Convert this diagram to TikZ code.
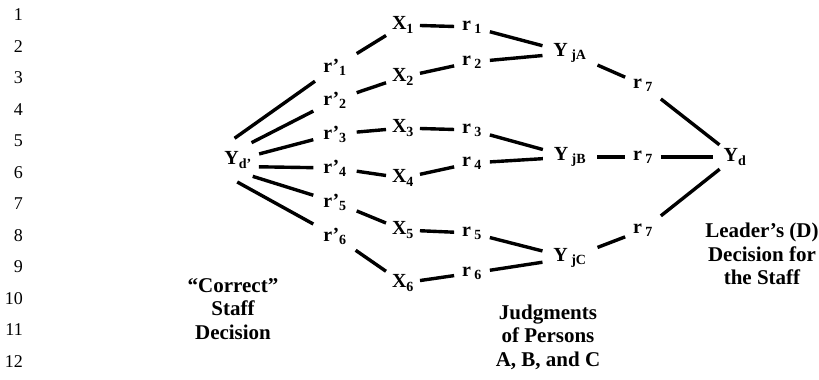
\documentclass[tikz,border=0pt]{standalone}
\usepackage{fontspec}
\setmainfont{Liberation Serif}

\begin{document}
\begin{tikzpicture}[x=1pt, y=-1pt,
    var/.style={font=\fontsize{20}{22}\selectfont\bfseries, inner sep=0pt, outer sep=6pt},
    judge/.style={var, inner xsep=7pt, outer sep=4pt},
    link/.style={line width=3.4pt},
    caption/.style={font=\fontsize{21}{23.5}\selectfont\bfseries, align=center}]

    \useasboundingbox (0,0) rectangle (819,380);

    % line numbers
    \foreach \n in {1,...,12}
        \node[font=\fontsize{18}{20}\selectfont, anchor=east, inner sep=0pt] (num\n) at (23, {15+(\n-1)*31.5}) {\n};

    % criterion, fanned out from a round border
    \node[var, circle, minimum size=44pt, outer sep=0pt] (ydp) at (238,160) {Y\textsubscript{d’}};

    \node[var, outer xsep=10pt] (rp1) at (335,67)  {r’\textsubscript{1}};
    \node[var, outer xsep=10pt] (rp2) at (335,100) {r’\textsubscript{2}};
    \node[var, outer xsep=10pt] (rp3) at (335,134) {r’\textsubscript{3}};
    \node[var, outer xsep=10pt] (rp4) at (335,168) {r’\textsubscript{4}};
    \node[var, outer xsep=10pt] (rp5) at (335,202) {r’\textsubscript{5}};
    \node[var, outer xsep=10pt] (rp6) at (335,236) {r’\textsubscript{6}};

    \node[var] (x1) at (403,25)  {X\textsubscript{1}};
    \node[var] (x2) at (403,77)  {X\textsubscript{2}};
    \node[var] (x3) at (403,128) {X\textsubscript{3}};
    \node[var] (x4) at (403,178) {X\textsubscript{4}};
    \node[var] (x5) at (403,230) {X\textsubscript{5}};
    \node[var] (x6) at (403,283) {X\textsubscript{6}};

    \node[var, outer sep=8pt] (r1) at (472,27)  {r\,\textsubscript{1}};
    \node[var, outer sep=8pt] (r2) at (472,62)  {r\,\textsubscript{2}};
    \node[var, outer sep=8pt] (r3) at (472,130) {r\,\textsubscript{3}};
    \node[var, outer sep=8pt] (r4) at (472,163) {r\,\textsubscript{4}};
    \node[var, outer sep=8pt] (r5) at (472,233) {r\,\textsubscript{5}};
    \node[var, outer sep=8pt] (r6) at (472,273) {r\,\textsubscript{6}};

    % judges A, B, C
    \node[judge] (yja) at (570,53)  {Y\,\textsubscript{jA}};
    \node[judge] (yjb) at (570,157) {Y\,\textsubscript{jB}};
    \node[judge] (yjc) at (570,258) {Y\,\textsubscript{jC}};

    \node[var, outer sep=8pt] (r7a) at (643,85)  {r\,\textsubscript{7}};
    \node[var, outer sep=8pt] (r7b) at (643,157) {r\,\textsubscript{7}};
    \node[var, outer sep=8pt] (r7c) at (643,230) {r\,\textsubscript{7}};

    % leader
    \node[judge] (yd) at (735,157) {Y\textsubscript{d}};

    \draw[link] (ydp.99)  -- (rp1);
    \draw[link] (ydp.52)  -- (rp2);
    \draw[link] (ydp.16)  -- (rp3);
    \draw[link] (ydp.-18) -- (rp4);
    \draw[link] (ydp.-48) -- (rp5);
    \draw[link] (ydp.-92) -- (rp6);

    \foreach \i in {1,...,6} {
        \draw[link] (rp\i) -- (x\i);
        \draw[link] (x\i) -- (r\i);
    }
    \draw[link] (r1) -- (yja);
    \draw[link] (r2) -- (yja);
    \draw[link] (r3) -- (yjb);
    \draw[link] (r4) -- (yjb);
    \draw[link] (r5) -- (yjc);
    \draw[link] (r6) -- (yjc);

    \draw[link] (yja) -- (r7a);
    \draw[link] (yjb) -- (r7b);
    \draw[link] (yjc) -- (r7c);
    \draw[link] (r7a) -- (yd);
    \draw[link] (r7b) -- (yd);
    \draw[link] (r7c) -- (yd);

    % captions
    \node[caption] (correct) at (233,309) {“Correct”\\Staff\\Decision};
    \node[caption] (judges) at (548,337) {Judgments\\of Persons\\A, B, and C};
    \node[caption] (leader) at (762,254) {Leader’s (D)\\Decision for\\the Staff};

\end{tikzpicture}
\end{document}
